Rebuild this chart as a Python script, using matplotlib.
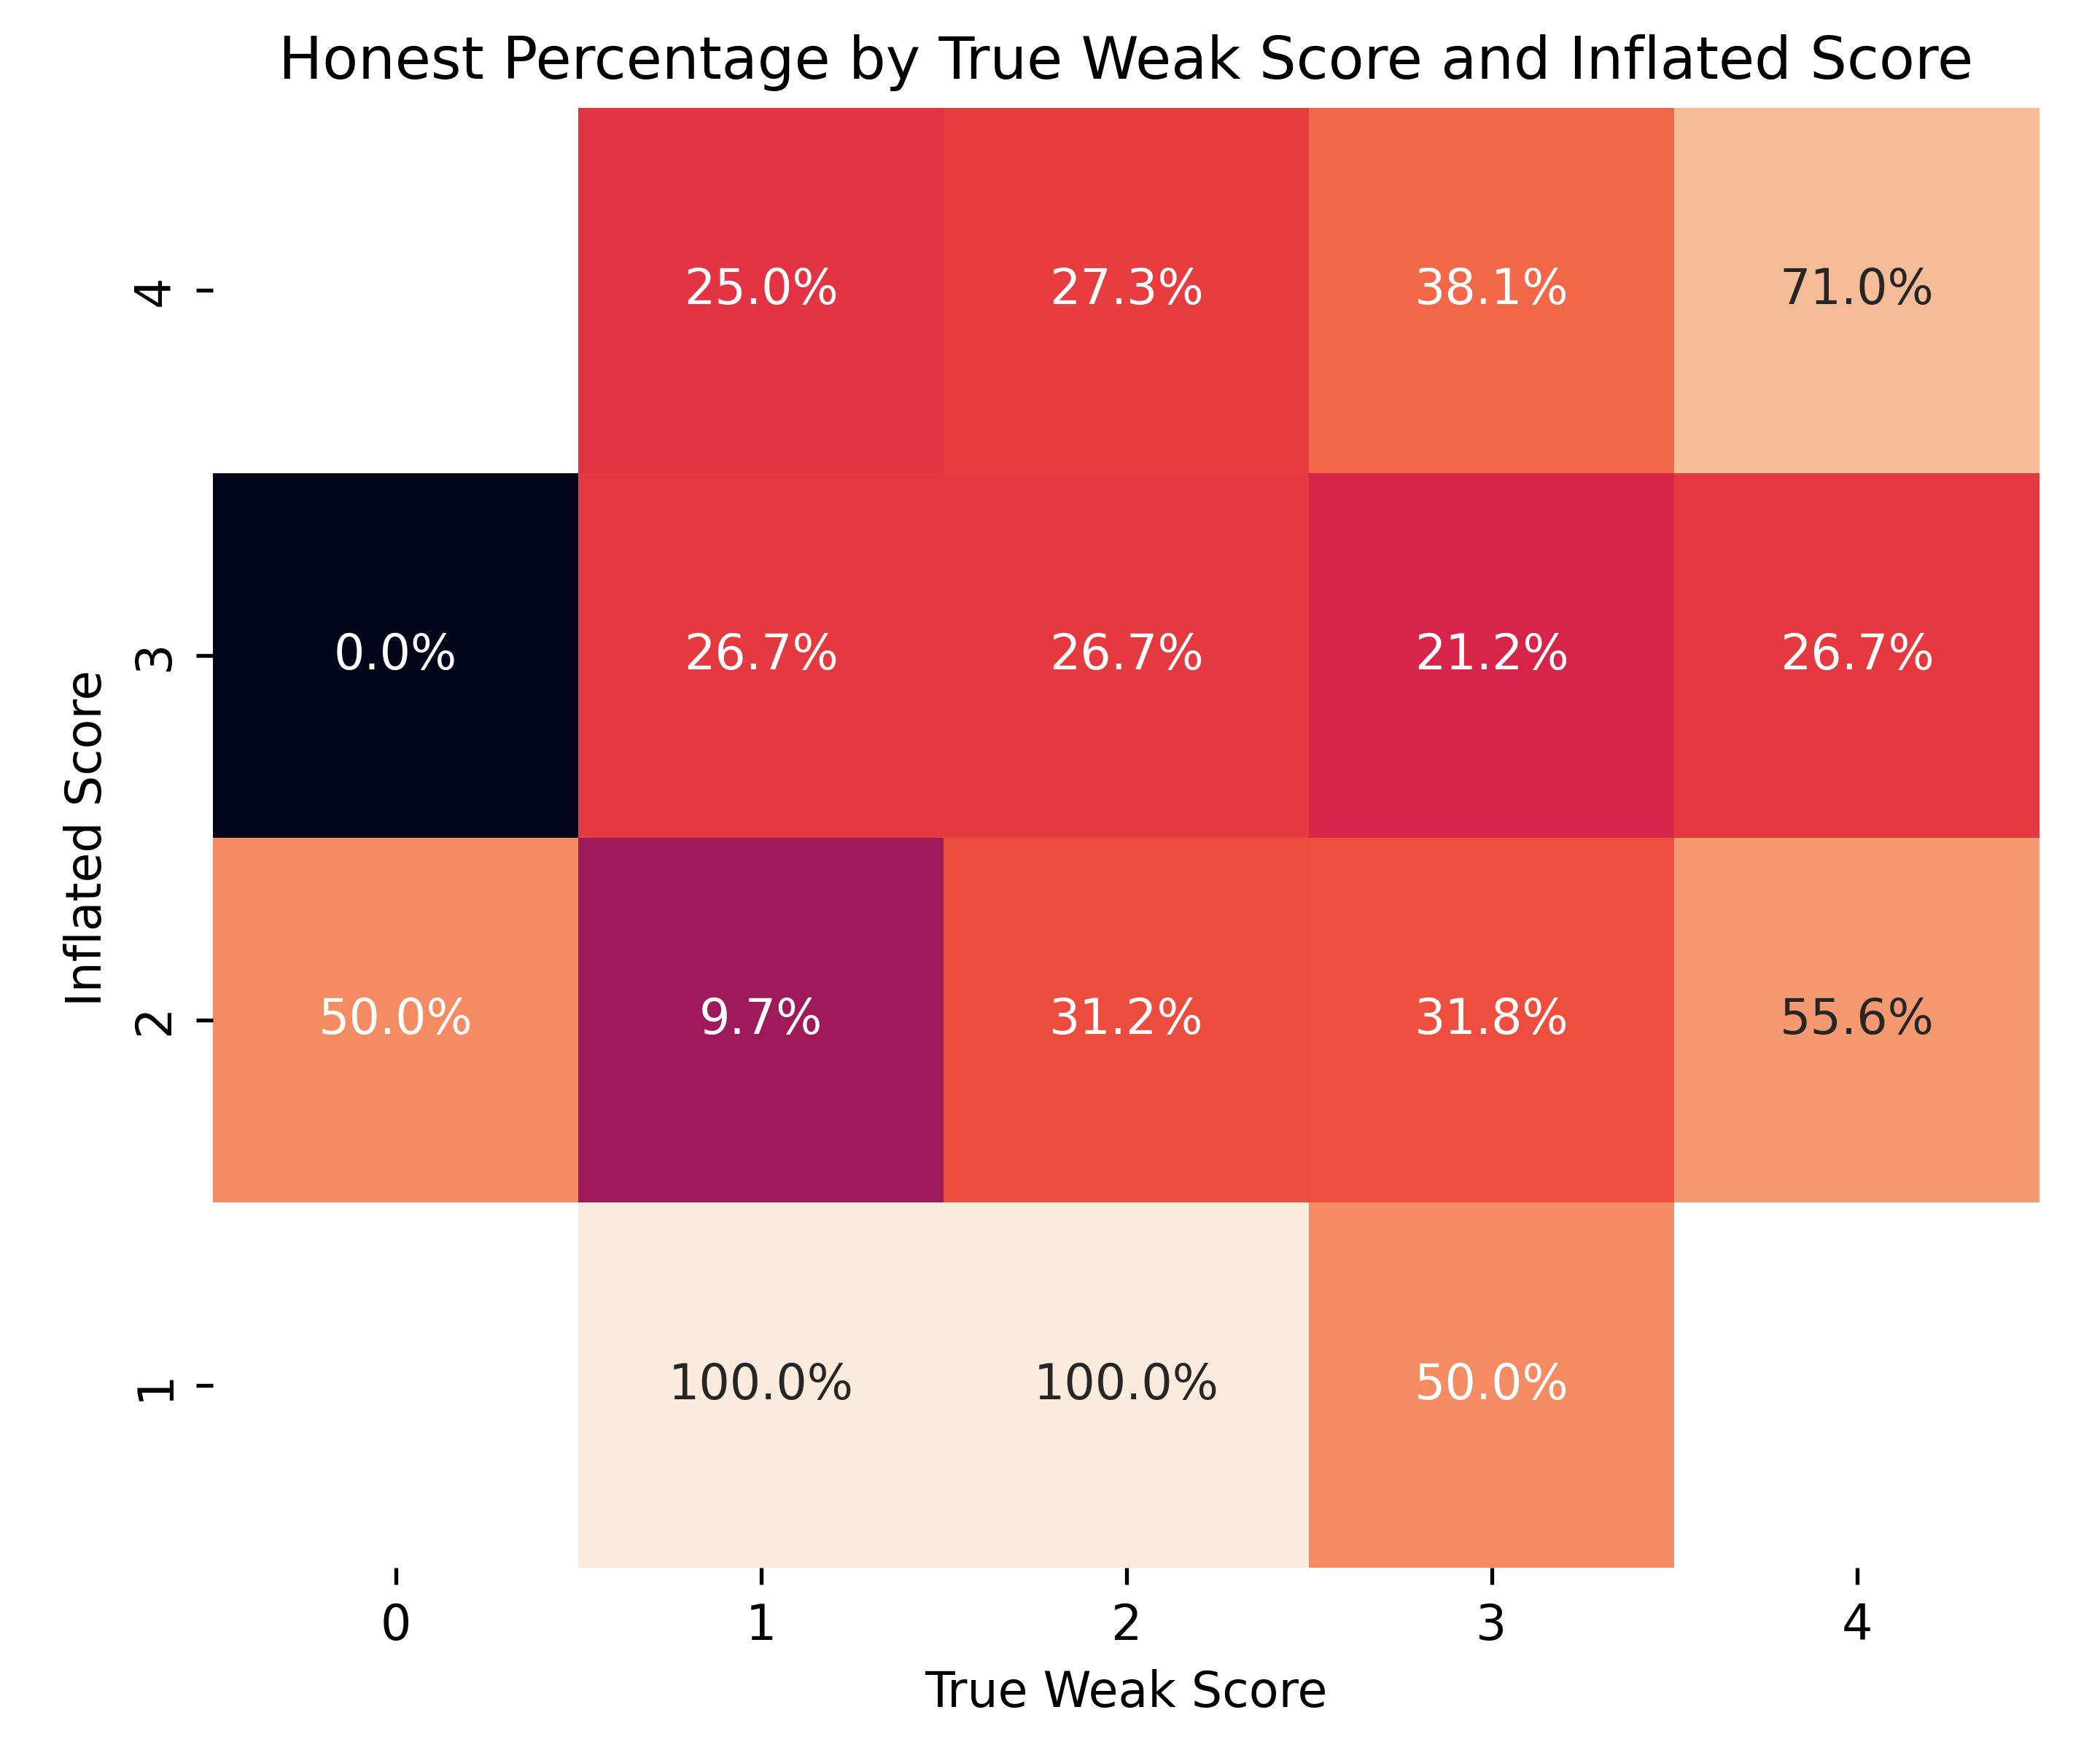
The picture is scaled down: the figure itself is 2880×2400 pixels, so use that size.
import numpy as np
import pandas as pd
import matplotlib
matplotlib.use("Agg")
import matplotlib.pyplot as plt
import matplotlib.colors as mcolors
import seaborn as sns

true_weak = [0, 1, 2, 3, 4]
inflated = [1, 2, 3, 4]
row_1 = [np.nan, 100.0, 100.0, 50.0, np.nan]
row_2 = [50.0, 9.7, 31.2, 31.8, 55.6]
row_3 = [0.0, 26.7, 26.7, 21.2, 26.7]
row_4 = [np.nan, 25.0, 27.3, 38.1, 71.0]

df = pd.DataFrame([row_1, row_2, row_3, row_4], index=inflated, columns=true_weak)
labels = df.map(lambda v: "" if pd.isna(v) else f"{v:.1f}%")

fig, ax = plt.subplots(figsize=(6, 5))
sns.heatmap(df, annot=labels, fmt="", cmap="rocket", cbar=False,
            norm=mcolors.PowerNorm(gamma=0.4, vmin=0, vmax=100), ax=ax)
ax.invert_yaxis()
ax.set_title("Honest Percentage by True Weak Score and Inflated Score")
ax.set_xlabel("True Weak Score")
ax.set_ylabel("Inflated Score")
fig.subplots_adjust(left=0.1014, right=0.9712, bottom=0.1042, top=0.9383)
fig.savefig("out.png", dpi=480)
